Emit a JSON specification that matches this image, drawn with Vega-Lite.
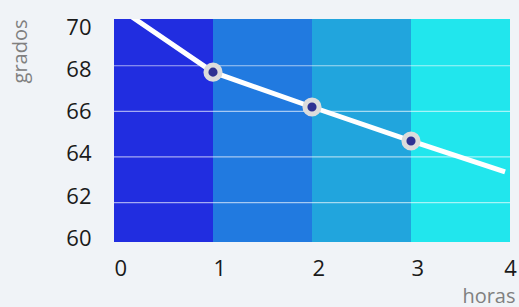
{
  "$schema": "https://vega.github.io/schema/vega-lite/v6.json",
  "autosize": {"type": "none"},
  "padding": {"left": 114, "top": 19, "right": 9, "bottom": 65},
  "width": 396,
  "height": 223,
  "background": "#f0f3f7",
  "config": {
    "view": {"stroke": null},
    "font": "Open Sans"
  },
  "datasets": {
    "bands": [
      {"start": 0, "end": 1, "seg": "a"},
      {"start": 1, "end": 2, "seg": "b"},
      {"start": 2, "end": 3, "seg": "c"},
      {"start": 3, "end": 4, "seg": "d"}
    ],
    "grid": [{"gy": 62}, {"gy": 64}, {"gy": 66}, {"gy": 68}],
    "temp": [
      {"h": 0, "g": 70.68},
      {"h": 1, "g": 67.72},
      {"h": 2, "g": 66.19},
      {"h": 3, "g": 64.7},
      {"h": 3.95, "g": 63.35}
    ]
  },
  "resolve": {"scale": {"y": "independent"}, "axis": {"y": "independent"}},
  "layer": [
    {
      "data": {"name": "bands"},
      "mark": {"type": "rect"},
      "encoding": {
        "x": {"field": "start", "type": "quantitative",
          "scale": {"domain": [0, 4], "nice": false, "zero": false},
          "axis": {"title": "horas", "values": [0, 1, 2, 3, 4], "ticks": false, "domain": false, "grid": false,
            "labelFontSize": 22, "labelColor": "#1a1a1a", "labelFont": "Open Sans",
            "labelAlign": {"condition": {"test": "datum.value == 4", "value": "center"}, "value": "left"},
            "labelBaseline": "top", "labelPadding": 16, "labelFlush": false, "labelOverlap": false, "labelBound": false,
            "titleFontSize": 20, "titleFontWeight": "normal", "titleColor": "#808080", "titleFont": "Open Sans",
            "titleAnchor": "end", "titleAlign": "right", "titleBaseline": "alphabetic", "titleX": 401, "titleY": 60}},
        "x2": {"field": "end"},
        "y": {"datum": 59.82, "type": "quantitative",
          "scale": {"domain": [59.82, 70.4], "nice": false, "zero": false},
          "axis": {"orient": "left", "title": "grados", "values": [60, 62, 64, 66, 68, 70], "ticks": false, "domain": false, "grid": false,
            "labelFontSize": 22, "labelColor": "#1a1a1a", "labelFont": "Open Sans", "labelPadding": 23,
            "labelBaseline": "middle", "labelOverlap": false, "labelBound": false, "labelFlush": false,
            "titleFontSize": 20, "titleFontWeight": "normal", "titleColor": "#808080", "titleFont": "Open Sans",
            "titleAnchor": "end", "titleAlign": "right", "titleBaseline": "middle", "titleAngle": -90, "titleX": -94, "titleY": 0}},
        "y2": {"datum": 70.4},
        "color": {"field": "seg", "type": "nominal",
          "scale": {"domain": ["a", "b", "c", "d"], "range": ["#212de0", "#217ae0", "#21a5dd", "#21e6ed"]},
          "legend": null}
      }
    },
    {
      "layer": [
        {
          "data": {"name": "grid"},
          "mark": {"type": "rule", "color": "#ffffff", "opacity": 0.6, "strokeWidth": 1.2},
          "encoding": {
            "y": {"field": "gy", "type": "quantitative",
              "scale": {"domain": [60.27, 70.05], "nice": false, "zero": false}, "axis": null}
          }
        },
        {
          "data": {"name": "temp"},
          "mark": {"type": "line", "color": "#ffffff", "strokeWidth": 5, "clip": true, "strokeCap": "butt"},
          "encoding": {
            "x": {"field": "h", "type": "quantitative",
              "scale": {"domain": [0, 4], "nice": false, "zero": false},
              "axis": {"title": "horas", "values": [0, 1, 2, 3, 4], "ticks": false, "domain": false, "grid": false,
                "labelFontSize": 22, "labelColor": "#1a1a1a", "labelFont": "Open Sans",
                "labelAlign": {"condition": {"test": "datum.value == 4", "value": "center"}, "value": "left"},
                "labelBaseline": "top", "labelPadding": 16, "labelFlush": false, "labelOverlap": false, "labelBound": false,
                "titleFontSize": 20, "titleFontWeight": "normal", "titleColor": "#808080", "titleFont": "Open Sans",
                "titleAnchor": "end", "titleAlign": "right", "titleBaseline": "alphabetic", "titleX": 401, "titleY": 60}},
            "y": {"field": "g", "type": "quantitative",
              "scale": {"domain": [60.27, 70.05], "nice": false, "zero": false}, "axis": null}
          }
        },
        {
          "data": {"name": "temp"},
          "transform": [{"filter": "datum.h >= 1 && datum.h <= 3"}],
          "mark": {"type": "point", "filled": true, "fill": "#2e3192", "stroke": "#dcdcdc", "strokeWidth": 5, "size": 200, "opacity": 1, "strokeOpacity": 1, "fillOpacity": 1},
          "encoding": {
            "x": {"field": "h", "type": "quantitative",
              "scale": {"domain": [0, 4], "nice": false, "zero": false},
              "axis": {"title": "horas", "values": [0, 1, 2, 3, 4], "ticks": false, "domain": false, "grid": false,
                "labelFontSize": 22, "labelColor": "#1a1a1a", "labelFont": "Open Sans",
                "labelAlign": {"condition": {"test": "datum.value == 4", "value": "center"}, "value": "left"},
                "labelBaseline": "top", "labelPadding": 16, "labelFlush": false, "labelOverlap": false, "labelBound": false,
                "titleFontSize": 20, "titleFontWeight": "normal", "titleColor": "#808080", "titleFont": "Open Sans",
                "titleAnchor": "end", "titleAlign": "right", "titleBaseline": "alphabetic", "titleX": 401, "titleY": 60}},
            "y": {"field": "g", "type": "quantitative",
              "scale": {"domain": [60.27, 70.05], "nice": false, "zero": false}, "axis": null}
          }
        }
      ]
    }
  ]
}
